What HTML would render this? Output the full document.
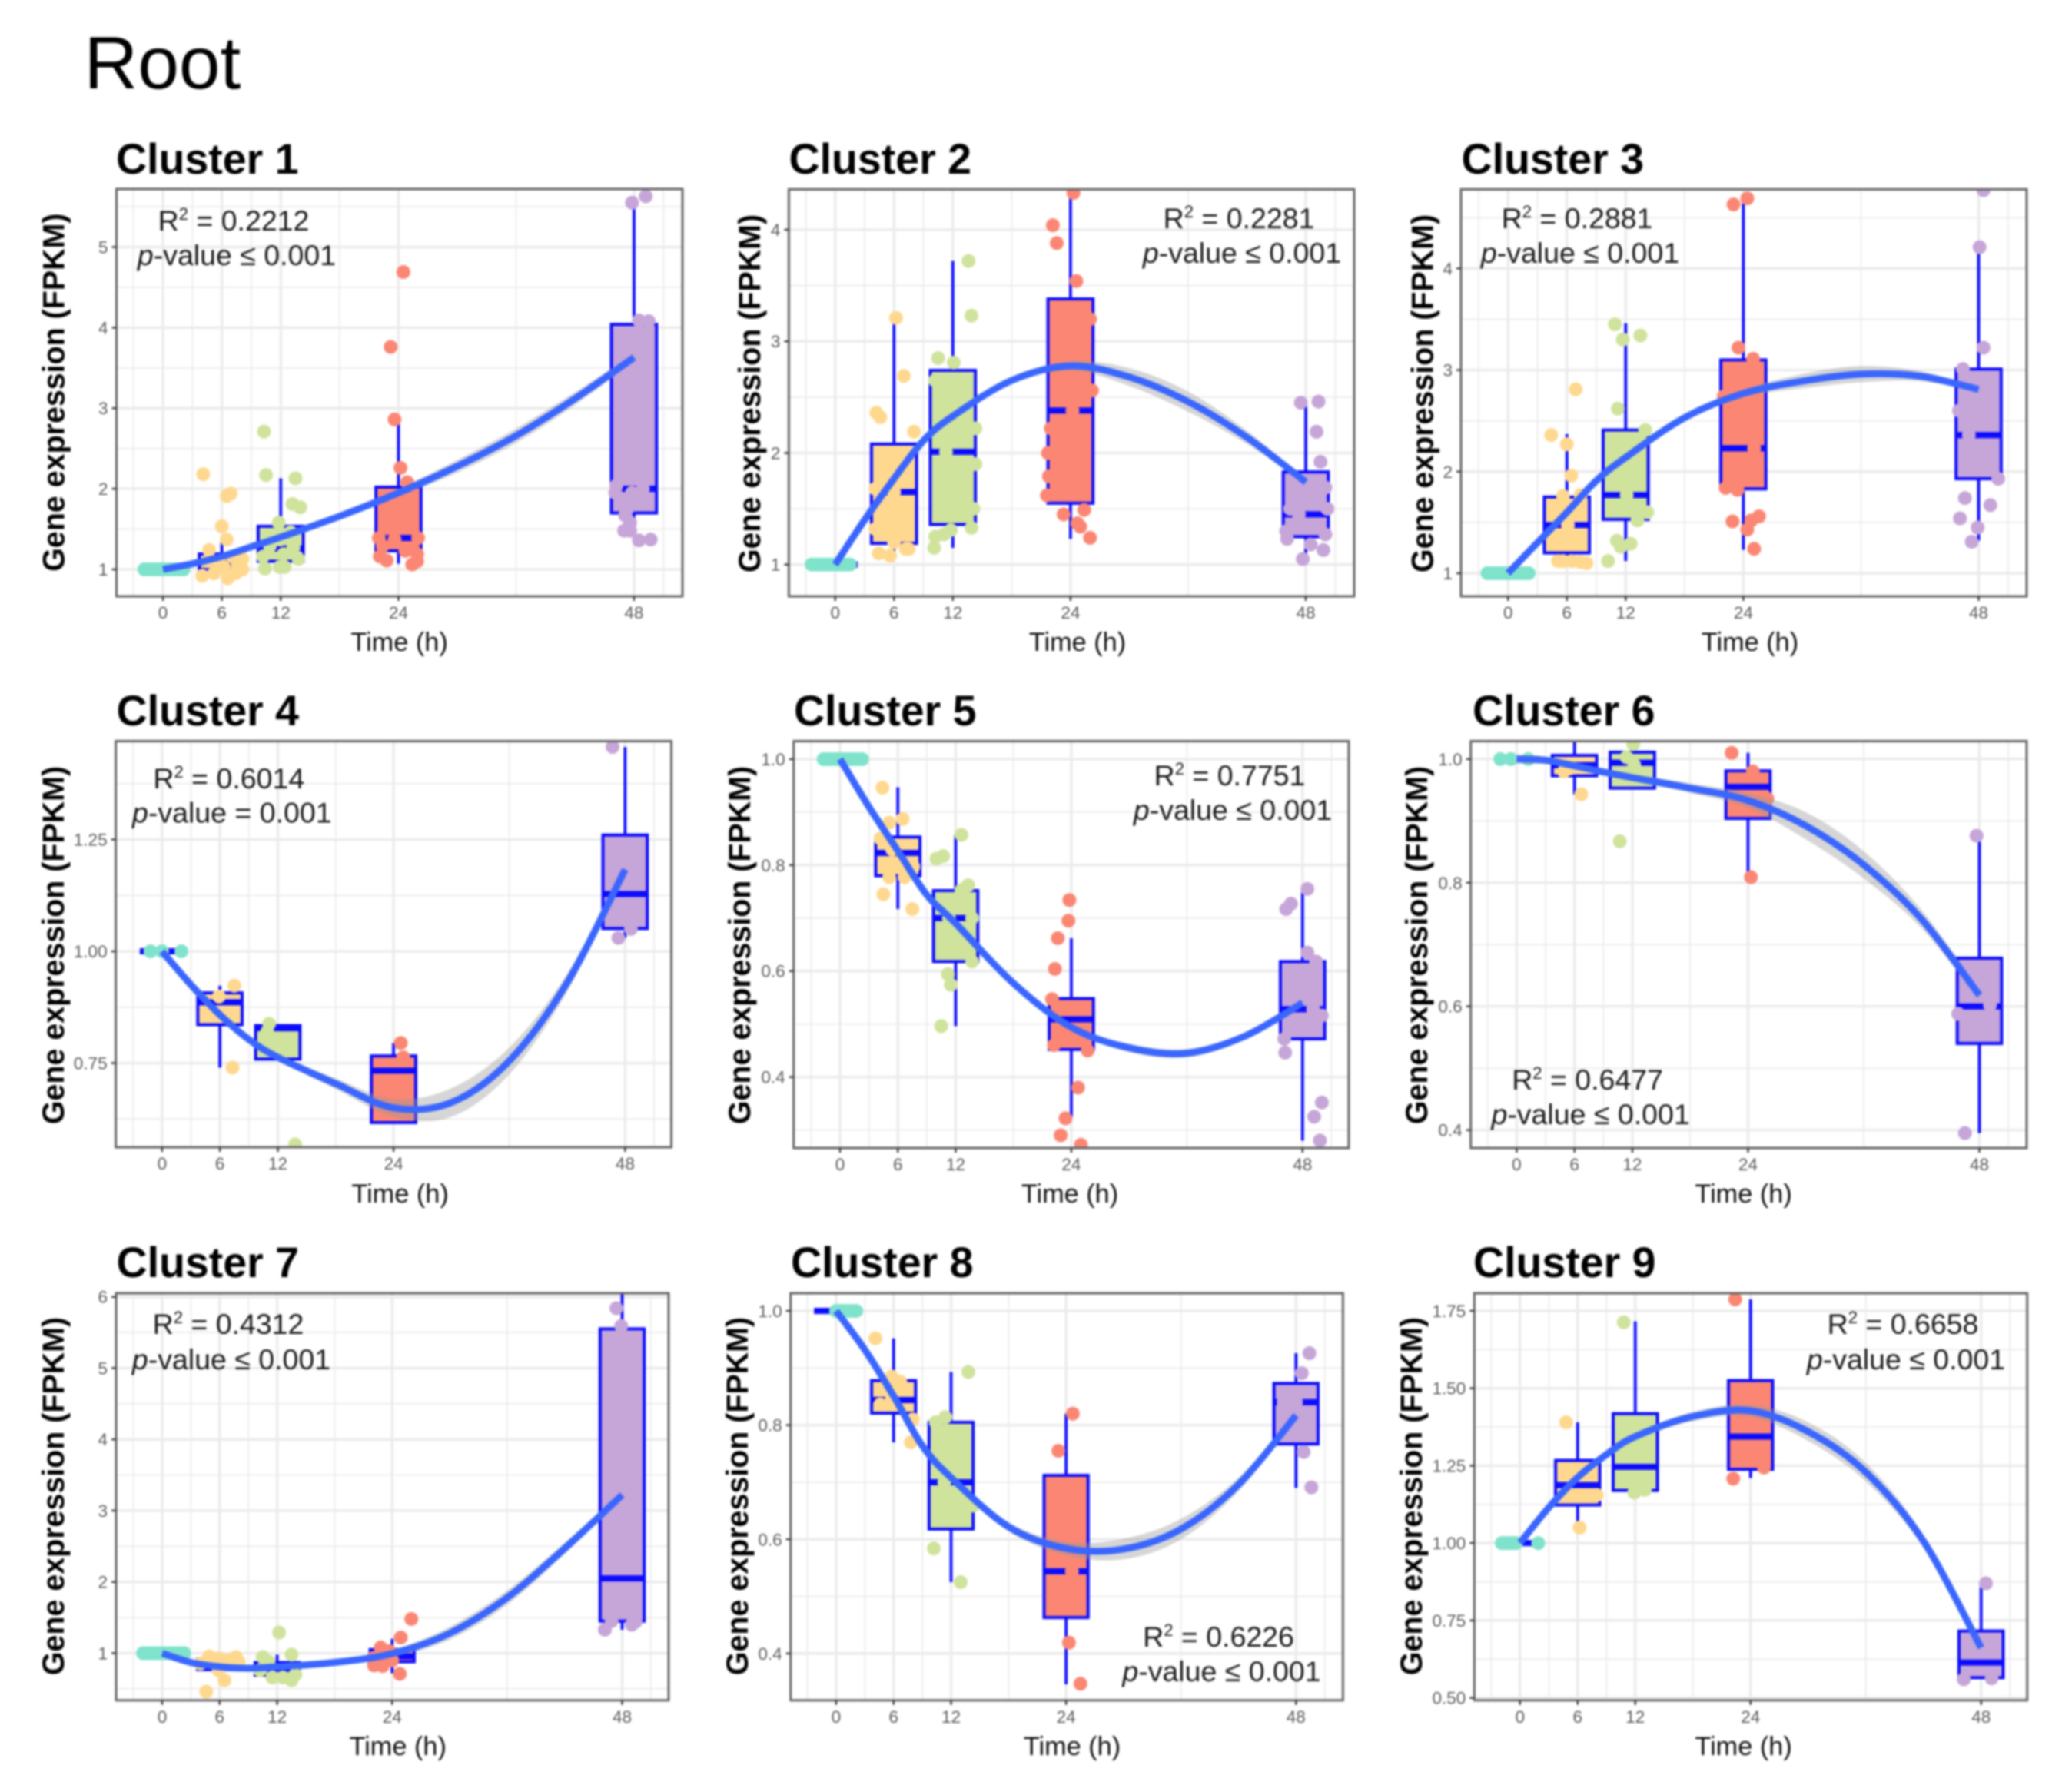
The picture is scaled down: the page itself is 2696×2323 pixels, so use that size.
<!DOCTYPE html>
<html lang="en">
<head>
<meta charset="utf-8">
<title>Root gene expression clusters</title>
<style>
html,body{margin:0;padding:0;background:#fff;width:2696px;height:2323px;overflow:hidden}
svg{display:block;filter:blur(1.2px);font-family:"Liberation Sans",Arial,sans-serif}
</style>
</head>
<body>
<svg id="figure" xmlns="http://www.w3.org/2000/svg" width="2696" height="2323" viewBox="0 0 2696 2323">
<rect width="2696" height="2323" fill="#fff"/>
<text x="109.5" y="115" font-size="96.5" fill="#000">Root</text>
</svg>
<script>
// Shared categories
const timeCategories = [0, 6, 12, 24, 48];
const xTickLabels = [0, 6, 12, 24, 48];
const xMinorTicks = [-3, 3, 9, 18, 36, 51];
const fitTimes = [0, 3, 6, 9, 12, 18, 24, 30, 36, 42, 48];
const boxHalfWidthHours = 2.3;

// Cluster 1: stats are [low whisker, q1, median, q3, high whisker] per time
const c1YTicks = [1, 2, 3, 4, 5];
const c1YMinor = [1.5, 2.5, 3.5, 4.5, 5.5];
const c1Stats = [[1,1,1,1,1],[1,1,1.08,1.19,1.37],[1,1.1,1.26,1.535,2.13],[1.07,1.23,1.39,2.02,2.87],[1.43,1.7,2,4.04,5.63]];
const c1Fit = [1,1.07,1.16,1.28,1.4,1.66,1.95,2.28,2.66,3.12,3.63];
const c1Band = [.02,.02,.02,.02,.03,.04,.05,.08,.09,.08,.05];
const c1Zero = [-1.9,-1.5,-1.1,-.7,-.3,0,.4,.8,1.2,1.6,2.1];
const c1Six = [[4.1,2.18],[6.5,1.91],[6.9,1.94],[6,1.535],[6.5,1.37],[4.7,1.24],[4,.92],[5.2,.95],[6.6,.89],[7.4,.95],[8.1,1],[8.1,1.13],[7.1,1.16],[5.7,1.08],[4.5,1.1],[6.2,1.03],[7.6,1.08]];
const c1Twelve = [[10.3,2.71],[10.5,2.17],[13.5,2.13],[13.2,1.81],[14,1.77],[11.8,1.58],[10.4,1.01],[11.9,1.03],[12.4,1.03],[10.2,1.16],[10.9,1.29],[13.3,1.27],[13.8,1.13],[12.3,1.19],[11.4,1.43],[13,1.46],[11.9,1.37]];
const c1TwentyFour = [[24.5,4.69],[23.2,3.76],[23.6,2.86],[24.2,2.26],[24.9,2.08],[22.1,1.16],[22.8,1.11],[22.4,1.29],[23.6,1.37],[25.9,1.19],[25.4,1.06],[25.9,1.1],[24.7,1.23],[22,1.39],[26,1.39]];
const c1FortyEight = [[47.8,5.55],[49.2,5.63],[48.5,4.09],[49.5,4.08],[47,1.48],[47.6,1.48],[48.5,1.36],[49.7,1.37],[47.1,1.67],[46.1,1.95],[47.8,1.95],[48.9,2],[46.2,2.04],[47.3,1.75],[47.6,1.58]];

// Cluster 2
const c2YTicks = [1, 2, 3, 4];
const c2YMinor = [1.5, 2.5, 3.5];
const c2Stats = [[1,1,1,1,1],[1.1,1.19,1.65,2.08,3.18],[1.15,1.36,2.01,2.74,3.72],[1.23,1.55,2.38,3.38,4.35],[1.05,1.25,1.45,1.83,2.45]];
const c2Fit = [1,1.4,1.77,2.11,2.33,2.65,2.78,2.68,2.46,2.14,1.74];
const c2Band = [.01,.01,.015,.02,.02,.03,.04,.08,.09,.06,.02];
const c2Zero = [-2.4,-2,-1.6,-1.2,-.8,-.4,0,.4,.8,1.2,1.5];
const c2Six = [[6.2,3.21],[7,2.69],[4.2,2.36],[4.6,2.32],[8.05,2.19],[4.45,1.1],[5.6,1.08],[7.2,1.14],[7.5,1.14],[4.1,1.68],[6,1.2],[4.1,1.32],[6,1.65]];
const c2Twelve = [[13.6,3.72],[13.9,3.23],[10.5,2.85],[12.1,2.81],[10.2,2.65],[14.3,2.22],[10.2,1.25],[11.1,1.27],[11.8,1.31],[10.1,1.15],[13.9,1.33],[11.3,2.01],[14.3,1.9],[14.1,1.5]];
const c2TwentyFour = [[24.3,4.33],[22.2,4.04],[22.6,3.88],[24.6,3.54],[26,3.2],[22,2.22],[21.8,1.79],[23.3,1.45],[25.4,1.49],[24.7,1.37],[25,1.34],[26,1.24],[24.2,2.38],[26.2,2.56],[21.6,1.62],[21.7,2]];
const c2FortyEight = [[47.5,2.45],[49.3,2.46],[49.1,2.19],[49.5,1.92],[50,1.69],[46.1,1.23],[50,1.27],[48.5,1.18],[49.8,1.13],[47.7,1.05],[46.4,1.5],[47.3,1.45],[46,1.3],[50.2,1.5]];

// Cluster 3
const c3YTicks = [1, 2, 3, 4];
const c3YMinor = [1.5, 2.5, 3.5, 4.5];
const c3Stats = [[1,1,1,1,1],[1.14,1.2,1.475,1.75,2.37],[1.12,1.53,1.77,2.41,3.46],[1.23,1.83,2.23,3.1,4.68],[1.32,1.93,2.36,3.01,4.2]];
const c3Fit = [1,1.3,1.6,1.91,2.14,2.53,2.77,2.89,2.96,2.94,2.81];
const c3Band = [.01,.01,.01,.015,.02,.03,.04,.07,.08,.05,.02];
const c3Zero = [-2.1,-1.8,-1.4,-1,-.6,-.2,.2,.6,1,1.4,1.8,2.1];
const c3Six = [[4.4,2.36],[6,2.27],[6.9,2.81],[6.45,1.96],[5.6,1.76],[7.4,1.77],[5.6,1.12],[6.5,1.12],[7.4,1.11],[8,1.1],[6.1,1.475],[5.1,1.12]];
const c3Twelve = [[10.9,3.45],[11.7,3.3],[13.5,3.34],[11.2,2.62],[14,2.41],[11.1,1.32],[11.5,1.26],[12.5,1.29],[10.2,1.12],[13.2,1.52],[12.1,1.77],[14.2,1.6]];
const c3TwentyFour = [[23,4.63],[24.4,4.69],[23.5,3.22],[25,3.11],[22.2,1.84],[23.4,1.82],[22.9,1.51],[24.8,1.52],[25.6,1.56],[24.4,1.43],[25.1,1.24],[22,2.74],[25.1,2.23]];
const c3FortyEight = [[48.5,4.77],[48.1,4.21],[48.5,3.22],[46.4,3.01],[49.3,2.02],[50,1.93],[46.6,1.74],[49.2,1.67],[46.1,1.54],[47.9,1.45],[47.3,1.31],[47,2.36],[46,2.6]];

// Cluster 4
const c4YTicks = [.75, 1, 1.25];
const c4YMinor = [.625, .875, 1.125, 1.375];
const c4Stats = [[1,1,1,1,1],[.74,.836,.886,.907,.923],[.759,.759,.828,.834,.834],[.617,.617,.733,.766,.795],[1.03,1.051,1.128,1.26,1.457]];
const c4Fit = [1,.925,.858,.803,.763,.704,.65,.662,.755,.93,1.183];
const c4Band = [.003,.003,.004,.005,.006,.012,.02,.032,.03,.02,.008];
const c4Zero = [-1.2,0,2];
const c4Six = [[7.5,.923],[5.9,.899],[7.3,.74]];
const c4Twelve = [[11.1,.838],[13.8,.568],[10.6,.81],[10.9,.82]];
const c4TwentyFour = [[24.75,.795],[25,.763]];
const c4FortyEight = [[46.7,1.457],[47.3,1.03],[48.6,1.05]];

// Cluster 5
const c5YTicks = [.4, .6, .8, 1];
const c5YMinor = [.3, .5, .7, .9];
const c5Stats = [[1,1,1,1,1],[.717,.78,.823,.853,.947],[.496,.618,.7,.752,.857],[.324,.452,.509,.548,.662],[.28,.472,.528,.618,.754]];
const c5Fit = [1,.91,.827,.744,.69,.577,.494,.455,.445,.477,.54];
const c5Band = [.002,.002,.002,.002,.002,.003,.004,.008,.008,.006,.004];
const c5Zero = [-1.7,-1.3,-.9,-.5,-.1,.3,.7,1.1,1.5,1.9,2.3];
const c5Six = [[4.4,.946],[5.1,.88],[6.5,.887],[4.2,.85],[4.5,.745],[7.5,.717],[5.1,.777],[7.6,.797],[6.7,.777],[5.4,.83]];
const c5Twelve = [[12.6,.857],[10,.812],[10.7,.817],[13.3,.762],[12.6,.753],[13.7,.7],[13.7,.618],[11.2,.594],[11.5,.574],[10.5,.496],[11.3,.7]];
const c5TwentyFour = [[23.8,.734],[23.7,.695],[22.6,.662],[22.3,.604],[22,.547],[25.7,.45],[24.7,.38],[23.4,.322],[22.9,.29],[25,.272],[22.2,.46]];
const c5FortyEight = [[48.5,.755],[46.8,.727],[46.3,.717],[48.5,.635],[49.4,.618],[50,.516],[46.1,.472],[46.2,.446],[50,.352],[49.2,.325],[49.8,.28],[49.1,.528]];

// Cluster 6
const c6YTicks = [.4, .6, .8, 1];
const c6YMinor = [.5, .7, .9];
const c6Stats = [[1,1,1,1,1],[.943,.973,.99,1.006,1.03],[.953,.953,.994,1.011,1.03],[.809,.904,.955,.981,1.01],[.395,.54,.6,.678,.874]];
const c6Fit = [1,.998,.989,.979,.97,.953,.933,.892,.829,.741,.618];
const c6Band = [.008,.006,.005,.005,.006,.008,.012,.022,.022,.015,.008];
const c6Zero = [-1.7,-.6,1.2];
const c6Six = [[6.7,.943],[5.5,.985],[4.9,.98]];
const c6Twelve = [[10.7,.867],[12.1,1.024],[11.4,1.003],[12.2,.99]];
const c6TwentyFour = [[22.3,1.01],[24.3,.809],[26,.936],[24.5,.98]];
const c6FortyEight = [[47.7,.876],[46.5,.395],[45.8,.588],[49.1,.602]];

// Cluster 7
const c7YTicks = [1, 2, 3, 4, 5, 6];
const c7YMinor = [.5, 1.5, 2.5, 3.5, 4.5, 5.5];
const c7Stats = [[1,1,1,1,1],[.63,.77,.83,.92,.955],[.69,.69,.78,.87,.98],[.72,.88,.955,1.05,1.2],[1.33,1.45,2.05,5.55,6.05]];
const c7Fit = [1,.87,.81,.79,.81,.87,.995,1.28,1.78,2.47,3.22];
const c7Band = [.02,.02,.02,.02,.02,.03,.05,.09,.1,.08,.04];
const c7Zero = [-2,-1.6,-1.2,-.8,-.4,0,.4,.9,1.4,1.8,2.3];
const c7Six = [[4.6,.46],[6.5,.62],[4.9,.955],[5.9,.93],[7.7,.945],[5.9,.76],[6.9,.905],[8,.88],[4,.855],[5.4,.88]];
const c7Twelve = [[12.2,1.29],[13.5,.98],[10.5,.945],[13.5,.62],[11.5,.66],[12.6,.66],[11.1,.88],[10.2,.76],[13.9,.7]];
const c7TwentyFour = [[26,1.48],[24.9,1.22],[24.8,.71],[22.8,1.08],[22.1,.83],[23,.82],[23.7,1.03],[22,.93],[23.2,.93],[24,.9]];
const c7FortyEight = [[47.4,5.84],[47.9,5.59],[46.2,1.33],[46.9,1.45],[49,1.4],[49.4,1.44]];

// Cluster 8
const c8YTicks = [.4, .6, .8, 1];
const c8YMinor = [.5, .7, .9];
const c8Stats = [[1,1,1,1,1],[.77,.821,.844,.878,.952],[.525,.618,.7,.805,.893],[.346,.463,.544,.712,.82],[.69,.767,.84,.873,.926]];
const c8Fit = [1,.932,.851,.764,.708,.622,.584,.583,.618,.696,.817];
const c8Band = [.002,.002,.003,.004,.005,.008,.012,.018,.018,.012,.005];
const c8Zero = [0,.3,.6,1,1.4,1.9,2.1];
const c8Six = [[4.1,.952],[5.8,.885],[6.7,.876],[7.8,.77],[8,.81],[4.6,.836],[5.8,.844]];
const c8Twelve = [[13.8,.893],[11.4,.814],[10.4,.805],[10.2,.584],[13,.525],[14.3,.659],[11.3,.7]];
const c8TwentyFour = [[24.7,.82],[23.2,.755],[24.3,.419],[25.5,.347],[24.6,.544]];
const c8FortyEight = [[49.4,.926],[48.6,.891],[48.8,.753],[49.6,.691],[46.7,.84],[48,.84]];

// Cluster 9
const c9YTicks = [.5, .75, 1, 1.25, 1.5, 1.75];
const c9YMinor = [.625, .875, 1.125, 1.375, 1.625];
const c9Stats = [[1,1,1,1,1],[1.05,1.123,1.187,1.267,1.39],[1.17,1.17,1.246,1.418,1.716],[1.21,1.238,1.344,1.525,1.787],[.565,.565,.614,.716,.868]];
const c9Fit = [1,1.115,1.212,1.286,1.344,1.409,1.427,1.36,1.229,1.006,.662];
const c9Band = [.003,.004,.005,.007,.01,.015,.02,.03,.03,.02,.008];
const c9Zero = [-1.9,-1.6,-1.3,-1,-.7,-.4,1.9];
const c9Six = [[4.8,1.39],[6.2,1.05],[8,1.155]];
const c9Twelve = [[10.8,1.713],[11.9,1.163],[13,1.172]];
const c9TwentyFour = [[22.4,1.787],[22.2,1.208],[25.4,1.244]];
const c9FortyEight = [[48.5,.87],[46.2,.56],[49.1,.563]];

// Printed annotations
const clusterNames = ['Cluster 1','Cluster 2','Cluster 3','Cluster 4','Cluster 5','Cluster 6','Cluster 7','Cluster 8','Cluster 9'];
const rSquaredLabels = ['0.2212','0.2281','0.2881','0.6014','0.7751','0.6477','0.4312','0.6226','0.6658'];
const pValueLabels = ['≤ 0.001','≤ 0.001','≤ 0.001','= 0.001','≤ 0.001','≤ 0.001','≤ 0.001','≤ 0.001','≤ 0.001'];

const seriesByCluster = [
  {yTicks:c1YTicks,yMinor:c1YMinor,stats:c1Stats,fit:c1Fit,band:c1Band,zero:c1Zero,groups:[c1Six,c1Twelve,c1TwentyFour,c1FortyEight],dec:0},
  {yTicks:c2YTicks,yMinor:c2YMinor,stats:c2Stats,fit:c2Fit,band:c2Band,zero:c2Zero,groups:[c2Six,c2Twelve,c2TwentyFour,c2FortyEight],dec:0},
  {yTicks:c3YTicks,yMinor:c3YMinor,stats:c3Stats,fit:c3Fit,band:c3Band,zero:c3Zero,groups:[c3Six,c3Twelve,c3TwentyFour,c3FortyEight],dec:0},
  {yTicks:c4YTicks,yMinor:c4YMinor,stats:c4Stats,fit:c4Fit,band:c4Band,zero:c4Zero,groups:[c4Six,c4Twelve,c4TwentyFour,c4FortyEight],dec:2},
  {yTicks:c5YTicks,yMinor:c5YMinor,stats:c5Stats,fit:c5Fit,band:c5Band,zero:c5Zero,groups:[c5Six,c5Twelve,c5TwentyFour,c5FortyEight],dec:1},
  {yTicks:c6YTicks,yMinor:c6YMinor,stats:c6Stats,fit:c6Fit,band:c6Band,zero:c6Zero,groups:[c6Six,c6Twelve,c6TwentyFour,c6FortyEight],dec:1},
  {yTicks:c7YTicks,yMinor:c7YMinor,stats:c7Stats,fit:c7Fit,band:c7Band,zero:c7Zero,groups:[c7Six,c7Twelve,c7TwentyFour,c7FortyEight],dec:0},
  {yTicks:c8YTicks,yMinor:c8YMinor,stats:c8Stats,fit:c8Fit,band:c8Band,zero:c8Zero,groups:[c8Six,c8Twelve,c8TwentyFour,c8FortyEight],dec:1},
  {yTicks:c9YTicks,yMinor:c9YMinor,stats:c9Stats,fit:c9Fit,band:c9Band,zero:c9Zero,groups:[c9Six,c9Twelve,c9TwentyFour,c9FortyEight],dec:2}
];

// Layout only: panel rectangles, axis domains and label anchors
const panelLayouts = [
  {l:151.5,r:888,t:246,b:776,x0:-4.74,x1:52.94,y0:.666,y1:5.72,tx:151,ty:226,yt:83.5,ytc:510.6,xt:519.6,xb:847,ax:307,a1:300,a2:345},
  {l:1026.4,r:1762,t:246.4,b:776,x0:-4.73,x1:52.94,y0:.716,y1:4.362,tx:1026.5,ty:226,yt:989,ytc:512,xt:1402,xb:847,ax:1615,a1:297,a2:342},
  {l:1901,r:2637,t:246.4,b:776,x0:-4.8,x1:52.9,y0:.773,y1:4.779,tx:1901.5,ty:226,yt:1864.6,ytc:512,xt:2277,xb:847,ax:2055,a1:297,a2:342},
  {l:150.6,r:873.6,t:964.5,b:1493,x0:-4.8,x1:52.8,y0:.5619,y1:1.47,tx:151.5,ty:944,yt:83,ytc:1230,xt:520.6,xb:1565,ax:300.8,a1:1026,a2:1070.5},
  {l:1032.7,r:1755,t:964.5,b:1494,x0:-4.81,x1:52.8,y0:.266,y1:1.034,tx:1033,ty:944,yt:976,ytc:1230,xt:1392,xb:1565,ax:1603,a1:1022,a2:1067},
  {l:1913.7,r:2637,t:964.5,b:1494,x0:-4.76,x1:52.9,y0:.371,y1:1.029,tx:1916,ty:944,yt:1857,ytc:1230,xt:2268.6,xb:1565,ax:2068.6,a1:1418,a2:1463},
  {l:151,r:870,t:1683,b:2212.8,x0:-4.81,x1:52.85,y0:.339,y1:6.05,tx:151.5,ty:1662,yt:83,ytc:1947,xt:517.7,xb:2284,ax:300,a1:1736,a2:1782},
  {l:1028.7,r:1747.4,t:1683,b:2212.8,x0:-4.75,x1:52.9,y0:.318,y1:1.031,tx:1029,ty:1662,yt:973,ytc:1947,xt:1395,xb:2284,ax:1588.5,a1:2143,a2:2188},
  {l:1918.3,r:2637.7,t:1683,b:2212.8,x0:-4.76,x1:52.8,y0:.492,y1:1.807,tx:1917,ty:1662,yt:1850,ytc:1947,xt:2268.6,xb:2284,ax:2479,a1:1736,a2:1782}
];

const timeColors = ['#7FE3CC','#FFD88F','#CFE39C','#FB8674','#C6A5D8'];
const BOX_BLUE = '#0b0bff';
const FIT_BLUE = '#3A66FF';
const NS = 'http://www.w3.org/2000/svg';
const figure = document.getElementById('figure');

function make(tag, attrs, parent) {
  const el = document.createElementNS(NS, tag);
  for (const k in attrs) el.setAttribute(k, attrs[k]);
  parent.appendChild(el);
  return el;
}
function smoothPath(pts, move) {
  let d = (move ? 'M' : 'L') + pts[0][0].toFixed(1) + ' ' + pts[0][1].toFixed(1);
  for (let i = 0; i < pts.length - 1; i++) {
    const p0 = pts[Math.max(i - 1, 0)], p1 = pts[i], p2 = pts[i + 1], p3 = pts[Math.min(i + 2, pts.length - 1)];
    d += 'C' + (p1[0] + (p2[0] - p0[0]) / 6).toFixed(1) + ' ' + (p1[1] + (p2[1] - p0[1]) / 6).toFixed(1) + ' ' +
         (p2[0] - (p3[0] - p1[0]) / 6).toFixed(1) + ' ' + (p2[1] - (p3[1] - p1[1]) / 6).toFixed(1) + ' ' +
         p2[0].toFixed(1) + ' ' + p2[1].toFixed(1);
  }
  return d;
}

function drawCluster(index) {
  const L = panelLayouts[index], S = seriesByCluster[index];
  const xAxis = function (t) { return L.l + (t - L.x0) / (L.x1 - L.x0) * (L.r - L.l); };
  const yAxis = function (v) { return L.b - (v - L.y0) / (L.y1 - L.y0) * (L.b - L.t); };
  const root = make('g', {}, figure);
  
  

  const clipId = 'clip' + index;
  const defs = make('defs', {}, root);
  const clip = make('clipPath', {id: clipId}, defs);
  make('rect', {x: L.l, y: L.t, width: L.r - L.l, height: L.b - L.t}, clip);

  const title = make('text', {x: L.tx, y: L.ty, 'font-size': 55.5, 'font-weight': 700, fill: '#000'}, root);
  
  
  title.textContent = clusterNames[index];

  const grid = make('g', {stroke: '#ebebeb', fill: 'none'}, root);
  
  
  xMinorTicks.forEach(function (t) {
    make('line', {x1: xAxis(t), x2: xAxis(t), y1: L.t, y2: L.b, 'stroke-width': 1.7}, grid);
  });
  S.yMinor.forEach(function (v) {
    make('line', {x1: L.l, x2: L.r, y1: yAxis(v), y2: yAxis(v), 'stroke-width': 1.7}, grid);
  });
  timeCategories.forEach(function (t) {
    make('line', {x1: xAxis(t), x2: xAxis(t), y1: L.t, y2: L.b, 'stroke-width': 3.4}, grid);
  });
  S.yTicks.forEach(function (v) {
    make('line', {x1: L.l, x2: L.r, y1: yAxis(v), y2: yAxis(v), 'stroke-width': 3.4}, grid);
  });

  const plot = make('g', {'clip-path': 'url(#' + clipId + ')'}, root);
  
  

  S.stats.forEach(function (st, i) {
    const t = timeCategories[i], cx = xAxis(t);
    const bl = xAxis(t - boxHalfWidthHours), br = xAxis(t + boxHalfWidthHours);
    const box = make('g', {}, plot);
    
    
    make('line', {x1: cx, x2: cx, y1: yAxis(st[0]), y2: yAxis(st[1]), stroke: BOX_BLUE, 'stroke-width': 3.8}, box);
    make('line', {x1: cx, x2: cx, y1: yAxis(st[3]), y2: yAxis(st[4]), stroke: BOX_BLUE, 'stroke-width': 3.8}, box);
    make('rect', {x: bl, y: yAxis(st[3]), width: br - bl, height: yAxis(st[1]) - yAxis(st[3]), fill: timeColors[i], stroke: BOX_BLUE, 'stroke-width': 4}, box);
    make('line', {x1: bl, x2: br, y1: yAxis(st[2]), y2: yAxis(st[2]), stroke: BOX_BLUE, 'stroke-width': 8}, box);
  });

  const zeroDots = make('g', {fill: timeColors[0]}, plot);
  
  
  S.zero.forEach(function (t) {
    make('circle', {cx: xAxis(t), cy: yAxis(1), r: 9}, zeroDots);
  });
  S.groups.forEach(function (group, g) {
    const dots = make('g', {fill: timeColors[g + 1]}, plot);
    
    
    group.forEach(function (p) {
      make('circle', {cx: xAxis(p[0]), cy: yAxis(p[1]), r: 9}, dots);
    });
  });

  const upper = fitTimes.map(function (t, i) { return [xAxis(t), yAxis(S.fit[i] + S.band[i])]; });
  const lower = fitTimes.map(function (t, i) { return [xAxis(t), yAxis(S.fit[i] - S.band[i])]; }).reverse();
  const band = make('path', {d: smoothPath(upper, true) + smoothPath(lower, false) + 'Z', fill: '#999', 'fill-opacity': .4}, plot);
  
  
  const fitPts = fitTimes.map(function (t, i) { return [xAxis(t), yAxis(S.fit[i])]; });
  const fit = make('path', {d: smoothPath(fitPts, true), fill: 'none', stroke: FIT_BLUE, 'stroke-width': 9}, plot);
  
  

  const border = make('rect', {x: L.l, y: L.t, width: L.r - L.l, height: L.b - L.t, fill: 'none', stroke: '#666', 'stroke-width': 3}, root);
  
  

  const xAxisGroup = make('g', {}, root);
  
  
  timeCategories.forEach(function (t, i) {
    make('line', {x1: xAxis(t), x2: xAxis(t), y1: L.b, y2: L.b + 6, stroke: '#444', 'stroke-width': 2.5}, xAxisGroup);
    const lab = make('text', {x: xAxis(t), y: L.b + 29, 'text-anchor': 'middle', 'font-size': 22.5, fill: '#5a5a5a'}, xAxisGroup);
    
    
    lab.textContent = xTickLabels[i];
  });
  const yAxisGroup = make('g', {}, root);
  
  
  S.yTicks.forEach(function (v) {
    make('line', {x1: L.l - 6, x2: L.l, y1: yAxis(v), y2: yAxis(v), stroke: '#444', 'stroke-width': 2.5}, yAxisGroup);
    const lab = make('text', {x: L.l - 11, y: yAxis(v) + 8, 'text-anchor': 'end', 'font-size': 22.5, fill: '#5a5a5a'}, yAxisGroup);
    
    
    lab.textContent = v.toFixed(S.dec);
  });

  const xTitle = make('text', {x: L.xt, y: L.xb, 'text-anchor': 'middle', 'font-size': 34.3, fill: '#111'}, root);
  
  
  xTitle.textContent = 'Time (h)';
  const yTitle = make('text', {x: 0, y: 0, 'text-anchor': 'middle', 'font-size': 39.4, 'font-weight': 700, fill: '#000', transform: 'translate(' + L.yt + ' ' + L.ytc + ') rotate(-90)'}, root);
  
  
  yTitle.textContent = 'Gene expression (FPKM)';

  const r2 = make('text', {x: L.ax - 3, y: L.a1, 'text-anchor': 'middle', 'font-size': 37.5, fill: '#1a1a1a'}, root);
  
  
  make('tspan', {}, r2).textContent = 'R';
  make('tspan', {dy: -14, 'font-size': 22}, r2).textContent = '2';
  make('tspan', {dy: 14}, r2).textContent = ' = ' + rSquaredLabels[index];
  const pv = make('text', {x: L.ax + 1, y: L.a2, 'text-anchor': 'middle', 'font-size': 37.5, fill: '#1a1a1a'}, root);
  
  
  make('tspan', {'font-style': 'italic'}, pv).textContent = 'p';
  make('tspan', {}, pv).textContent = '-value ' + pValueLabels[index];
}

clusterNames.forEach(function (_, i) { drawCluster(i); });
</script>
</body>
</html>
